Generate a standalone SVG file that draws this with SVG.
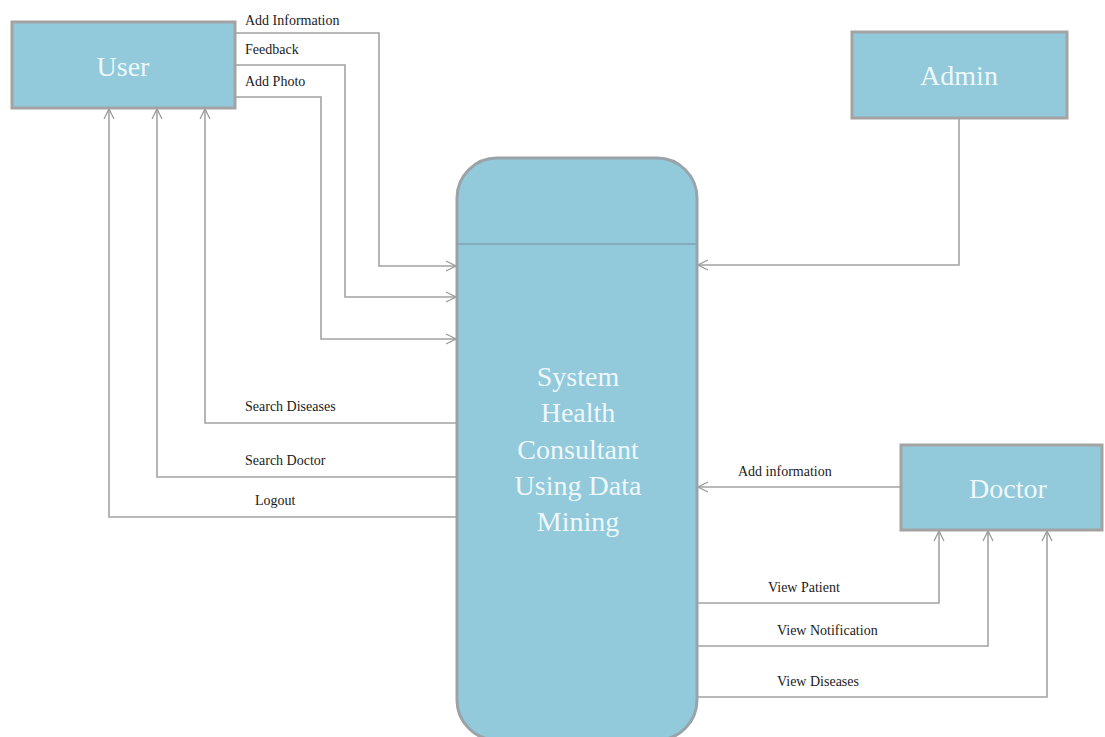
<svg xmlns="http://www.w3.org/2000/svg" width="1105" height="737" viewBox="0 0 1105 737">
<defs>
<marker id="arr" viewBox="0 0 12 12" refX="11" refY="6" markerWidth="12" markerHeight="12" markerUnits="userSpaceOnUse" orient="auto">
<polyline points="1,1 11,6 1,11" fill="none" stroke="#9a9a9a" stroke-width="1.3"/>
</marker>
</defs>
<style>
.box{fill:#92c9db;stroke:#a3a3a3;stroke-width:3}
.sys{fill:#92c9db;stroke:#9aa3a8;stroke-width:3}
.ntext{font-family:"Liberation Serif","Times New Roman",serif;font-size:28px;fill:#eef8fb;text-anchor:middle}
.lbl{font-family:"Liberation Serif","Times New Roman",serif;font-size:14px;fill:#1a1a1a}
.con{fill:none;stroke:#a3a3a3;stroke-width:1.6}
.arr{marker-end:url(#arr)}
</style>
<rect width="1105" height="737" fill="#ffffff"/>
<g id="connectors">
<polyline class="con arr" points="235,33 379,33 379,266 456,266"/>
<polyline class="con arr" points="235,65 345,65 345,297 456,297"/>
<polyline class="con arr" points="235,97 321,97 321,339 456,339"/>
<polyline class="con arr" points="457,423 205,423 205,109"/>
<polyline class="con arr" points="457,477 157,477 157,109"/>
<polyline class="con arr" points="457,517 109,517 109,109"/>
<polyline class="con arr" points="959,118 959,265 698,265"/>
<polyline class="con arr" points="901,487 698,487"/>
<polyline class="con arr" points="697,603 939,603 939,531"/>
<polyline class="con arr" points="697,646 988,646 988,531"/>
<polyline class="con arr" points="697,697 1047,697 1047,531"/>
<text class="lbl" x="245" y="25">Add Information</text>
<text class="lbl" x="245" y="54">Feedback</text>
<text class="lbl" x="245" y="86">Add Photo</text>
<text class="lbl" x="245" y="411">Search Diseases</text>
<text class="lbl" x="245" y="465">Search Doctor</text>
<text class="lbl" x="255" y="505">Logout</text>
<text class="lbl" x="738" y="476">Add information</text>
<text class="lbl" x="768" y="592">View Patient</text>
<text class="lbl" x="777" y="635">View Notification</text>
<text class="lbl" x="777" y="686">View Diseases</text>
</g>
<g id="user">
<rect class="box" x="12" y="22" width="223" height="86"/>
<text class="ntext" x="123" y="76">User</text>
</g>
<g id="admin">
<rect class="box" x="852" y="32" width="215" height="86"/>
<text class="ntext" x="959" y="85">Admin</text>
</g>
<g id="doctor">
<rect class="box" x="901" y="445" width="201" height="85"/>
<text class="ntext" x="1008" y="498">Doctor</text>
</g>
<g id="system">
<rect class="sys" x="457" y="158" width="240" height="582" rx="40" ry="40"/>
<line x1="457" y1="244" x2="697" y2="244" stroke="#7fa3b0" stroke-width="1.5"/>
<text class="ntext" x="578" y="386">System</text>
<text class="ntext" x="578" y="422">Health</text>
<text class="ntext" x="578" y="459">Consultant</text>
<text class="ntext" x="578" y="495">Using Data</text>
<text class="ntext" x="578" y="531">Mining</text>
</g>
</svg>
